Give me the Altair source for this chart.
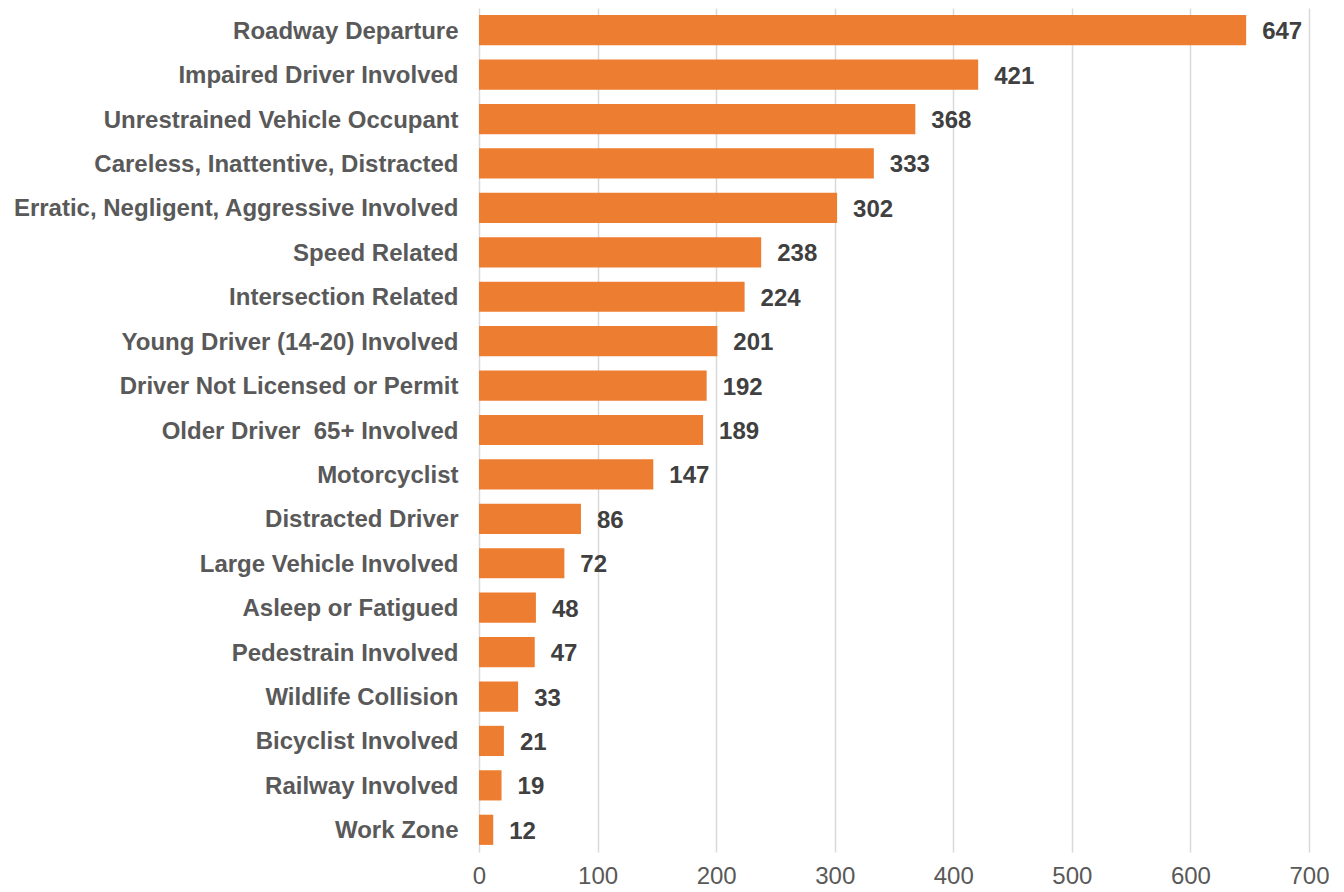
import altair as alt
import pandas as pd

categories = [
    "Roadway Departure", "Impaired Driver Involved", "Unrestrained Vehicle Occupant",
    "Careless, Inattentive, Distracted", "Erratic, Negligent, Aggressive Involved",
    "Speed Related", "Intersection Related", "Young Driver (14-20) Involved",
    "Driver Not Licensed or Permit", "Older Driver\u00a0 65+ Involved", "Motorcyclist",
    "Distracted Driver", "Large Vehicle Involved", "Asleep or Fatigued",
    "Pedestrain Involved", "Wildlife Collision", "Bicyclist Involved",
    "Railway Involved", "Work Zone",
]
values = [647, 421, 368, 333, 302, 238, 224, 201, 192, 189, 147, 86, 72, 48, 47, 33, 21, 19, 12]
x_ticks = [0, 100, 200, 300, 400, 500, 600, 700]

df = pd.DataFrame({"category": categories, "value": values})

FONT = "Liberation Sans"

y = alt.Y("category:N", sort=categories, title=None,
          scale=alt.Scale(paddingInner=0.32, paddingOuter=0.16),
          axis=alt.Axis(labelFontWeight="bold", labelFontSize=24, labelColor="#595959",
                        labelFont=FONT, ticks=False, domain=False, labelPadding=21,
                        labelLimit=600, labelOffset=1.5))
x = alt.X("value:Q", title=None,
          scale=alt.Scale(domain=[0, 700], nice=False),
          axis=alt.Axis(values=x_ticks, grid=True, labelFlush=False,
                        gridColor="#d9d9d9", gridWidth=1.5, domain=False, ticks=False,
                        labelFontSize=24, labelColor="#595959", labelFont=FONT,
                        labelPadding=12))

bars = alt.Chart(df).mark_bar(color="#ED7D31").encode(x=x, y=y)
text = alt.Chart(df).mark_text(align="left", baseline="middle", dx=16, dy=2,
                               fontSize=24, fontWeight="bold", color="#404040",
                               font=FONT).encode(
    x="value:Q", y=alt.Y("category:N", sort=categories), text="value:Q")

chart = (bars + text).properties(
    width=830, height=844,
    background="white",
    autosize=alt.AutoSizeParams(type="none"),
    padding={"left": 471, "top": 0, "right": 20, "bottom": 40},
).configure_view(stroke=None)

chart.save("out.html", embed_options={"renderer": "svg", "actions": False})
